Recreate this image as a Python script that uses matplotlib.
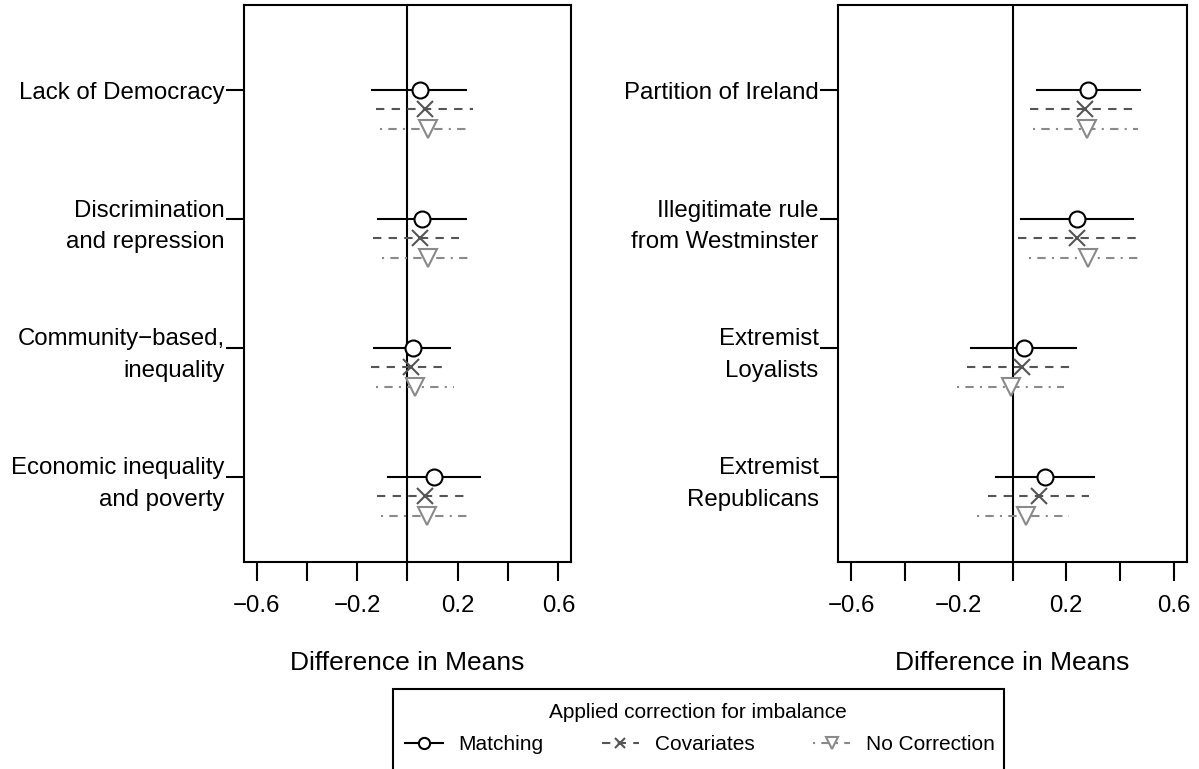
import matplotlib
matplotlib.use("Agg")
import matplotlib.pyplot as plt
from matplotlib.lines import Line2D
from matplotlib.patches import Rectangle

plt.rcParams["font.family"] = ["Liberation Sans", "DejaVu Sans"]

# left panel
left_labels = ["Lack of Democracy", "Discrimination\nand repression",
               "Community\u2212based,\ninequality", "Economic inequality\nand poverty"]
left_match = [0.048, 0.059, 0.020, 0.107]
left_match_lo = [-0.140, -0.117, -0.134, -0.079]
left_match_hi = [0.234, 0.234, 0.167, 0.290]
left_cov = [0.068, 0.048, 0.012, 0.071]
left_cov_lo = [-0.127, -0.139, -0.147, -0.123]
left_cov_hi = [0.262, 0.206, 0.139, 0.226]
left_nc = [0.083, 0.083, 0.028, 0.079]
left_nc_lo = [-0.110, -0.103, -0.127, -0.107]
left_nc_hi = [0.250, 0.258, 0.183, 0.254]

# right panel
right_labels = ["Partition of Ireland", "Illegitimate rule\nfrom Westminster",
                "Extremist\nLoyalists", "Extremist\nRepublicans"]
right_match = [0.280, 0.240, 0.041, 0.120]
right_match_lo = [0.090, 0.030, -0.154, -0.060]
right_match_hi = [0.475, 0.449, 0.236, 0.303]
right_cov = [0.270, 0.240, 0.034, 0.097]
right_cov_lo = [0.067, 0.019, -0.169, -0.090]
right_cov_hi = [0.457, 0.468, 0.221, 0.285]
right_nc = [0.277, 0.280, -0.004, 0.052]
right_nc_lo = [0.075, 0.060, -0.206, -0.131]
right_nc_hi = [0.468, 0.487, 0.191, 0.210]

methods = ["Matching", "Covariates", "No Correction"]
xticks = [-0.6, -0.4, -0.2, 0.0, 0.2, 0.4, 0.6]
xticklabels = ["\u22120.6", "", "\u22120.2", "", "0.2", "", "0.6"]

styles = [
    dict(color="black", ls="-", marker="o", ms=11.5, off=0.0),
    dict(color="#555555", ls=(0, (4, 3.5)), marker="x", ms=11, off=0.148),
    dict(color="#8a8a8a", ls=(0, (1, 3, 4, 3)), marker="v", ms=12.5, off=0.30),
]
LW = 1.5


def draw_panel(ax, labels, series):
    groups = [4, 3, 2, 1]
    ax.axvline(0, color="black", lw=LW, zorder=1)
    for (est, lo, hi), st in zip(series, styles):
        ys = [g - st["off"] for g in groups]
        for e, a, b, y in zip(est, lo, hi, ys):
            ax.plot([a, b], [y, y], color=st["color"], ls=st["ls"], lw=LW,
                    zorder=2)
        ax.plot(est, ys, ls="none", marker=st["marker"], ms=st["ms"],
                mfc="white" if st["marker"] != "x" else st["color"],
                mec=st["color"], mew=LW, zorder=3)
    ax.set_xlim(-0.65, 0.65)
    ax.set_ylim(0.34, 4.66)
    ax.set_yticks(groups)
    ax.set_yticklabels(labels, fontsize=17.3)
    for t in ax.get_yticklabels():
        t.set_linespacing(1.55)
    ax.set_xticks(xticks)
    ax.set_xticklabels(xticklabels, fontsize=17.3)
    ax.tick_params(axis="y", direction="out", length=13, width=LW, pad=1)
    ax.tick_params(axis="x", direction="out", length=13.5, width=LW, pad=10)
    for s in ax.spines.values():
        s.set_linewidth(LW)
    ax.set_xlabel("Difference in Means", fontsize=19, labelpad=25)


fig = plt.figure(figsize=(11.99, 7.69), dpi=100)
ax1 = fig.add_axes([244 / 1199, 1 - 562 / 769, 327 / 1199, 557 / 769])
ax2 = fig.add_axes([838 / 1199, 1 - 562 / 769, 349 / 1199, 557 / 769])

draw_panel(ax1, left_labels, [(left_match, left_match_lo, left_match_hi),
                              (left_cov, left_cov_lo, left_cov_hi),
                              (left_nc, left_nc_lo, left_nc_hi)])
draw_panel(ax2, right_labels, [(right_match, right_match_lo, right_match_hi),
                               (right_cov, right_cov_lo, right_cov_hi),
                               (right_nc, right_nc_lo, right_nc_hi)])

# legend box (cut off at the bottom like the original)
fig.add_artist(Rectangle((393 / 1199, -0.1), 611 / 1199, 0.1 + (769 - 689) / 769,
                         transform=fig.transFigure, fill=False, lw=LW,
                         ec="black", clip_on=False))
fig.text(698 / 1199, 1 - 712 / 769, "Applied correction for imbalance",
         ha="center", va="center", fontsize=15)
handles = []
for st in styles:
    handles.append(Line2D([0], [0], color=st["color"], ls=st["ls"], lw=LW,
                          marker=st["marker"], ms=st["ms"] * 0.7,
                          mfc="white" if st["marker"] != "x" else st["color"],
                          mec=st["color"], mew=LW))
fig.legend(handles, methods, ncol=3, loc="center", frameon=False,
           bbox_to_anchor=(700 / 1199, 1 - 745 / 769), fontsize=15,
           handlelength=1.8, handletextpad=0.75, columnspacing=2.8)

fig.savefig("out.png", dpi=100)
